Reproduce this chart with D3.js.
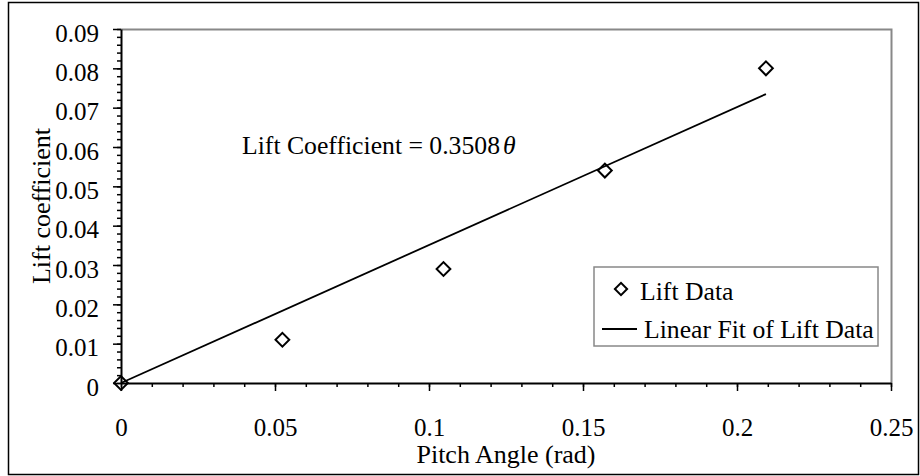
<!DOCTYPE html>
<html>
<head>
<meta charset="utf-8">
<script src="https://cdn.jsdelivr.net/npm/d3@7"></script>
<style>
  html, body { margin: 0; padding: 0; background: #fff; }
  svg { display: block; }
  text { font-family: "Liberation Serif", "Times New Roman", serif; fill: #000; }
</style>
</head>
<body>
<svg id="chart" width="920" height="476"></svg>
<script>
// Pitch angles (rad) for 3, 6, 9, 12 degrees, plus the origin
const pitchAngle = [0, 0.0524, 0.1047, 0.1571, 0.2094];
const liftCoefficient = [0, 0.011, 0.029, 0.054, 0.080];
const fitSlope = 0.3508;
const xTicks = [0, 0.05, 0.1, 0.15, 0.2, 0.25];
const yTicks = [0, 0.01, 0.02, 0.03, 0.04, 0.05, 0.06, 0.07, 0.08, 0.09];
const legendLabels = ["Lift Data", "Linear Fit of Lift Data"];

const svg = d3.select("#chart");
const plot = { left: 121, top: 29, right: 891, bottom: 383 };
const tickSize = 25;
const textSize = 25.7;
const titleSize = 26;

const x = d3.scaleLinear().domain([0, 0.25]).range([plot.left, plot.right]);
const y = d3.scaleLinear().domain([0, 0.09]).range([plot.bottom, plot.top]);

// outer frame
svg.append("rect")
  .attr("x", 8.5).attr("y", 2.5).attr("width", 910).attr("height", 472)
  .attr("fill", "none").attr("stroke", "#000").attr("stroke-width", 1.5);

// plot area frame (top and right edges)
svg.append("path")
  .attr("d", `M${plot.left},${plot.top + 0.5}H${plot.right + 0.5}V${plot.bottom}`)
  .attr("fill", "none").attr("stroke", "#888").attr("stroke-width", 2);

// minor ticks
const xMinor = d3.range(0, 26).map(i => i * 0.01);
const yMinor = d3.range(0, 46).map(i => i * 0.002);
svg.append("g").attr("transform", `translate(0,${plot.bottom})`)
  .call(d3.axisBottom(x).tickValues(xMinor).tickSize(4).tickFormat(""))
  .call(g => g.select(".domain").remove())
  .selectAll("line").attr("stroke-width", 1.5);
svg.append("g").attr("transform", `translate(${plot.left},0)`)
  .call(d3.axisLeft(y).tickValues(yMinor).tickSize(4).tickFormat(""))
  .call(g => g.select(".domain").remove())
  .selectAll("line").attr("stroke-width", 1.5);

// major axes
const fmt = d => String(+d.toFixed(2));
const xAxis = svg.append("g").attr("transform", `translate(0,${plot.bottom})`)
  .call(d3.axisBottom(x).tickValues(xTicks).tickSize(8).tickSizeOuter(0).tickPadding(27)
    .tickFormat(fmt));
const yAxis = svg.append("g").attr("transform", `translate(${plot.left},0)`)
  .call(d3.axisLeft(y).tickValues(yTicks).tickSize(8).tickSizeOuter(0).tickPadding(14)
    .tickFormat(fmt));
[xAxis, yAxis].forEach(a => {
  a.select(".domain").attr("stroke-width", 2);
  a.selectAll("line").attr("stroke-width", 1.5);
  a.selectAll("text").attr("font-size", tickSize)
    .style("font-family", "'Liberation Serif', serif");
});
yAxis.selectAll("text").attr("dy", "0.48em");

// axis titles
svg.append("text")
  .attr("x", (plot.left + plot.right) / 2).attr("y", 463)
  .attr("text-anchor", "middle").attr("font-size", titleSize)
  .text("Pitch Angle (rad)");
svg.append("text")
  .attr("transform", `translate(50,${(plot.top + plot.bottom) / 2}) rotate(-90)`)
  .attr("text-anchor", "middle").attr("font-size", titleSize)
  .text("Lift coefficient");

// linear fit through the origin
const fitX = [0, pitchAngle[pitchAngle.length - 1]];
svg.append("path")
  .datum(fitX)
  .attr("d", d3.line().x(d => x(d)).y(d => y(fitSlope * d)))
  .attr("fill", "none").attr("stroke", "#000").attr("stroke-width", 1.8);

// measured points as diamonds
const diamond = d3.symbol().type(d3.symbolSquare).size(95);
svg.append("g").selectAll("path")
  .data(pitchAngle.map((p, i) => [p, liftCoefficient[i]]))
  .join("path")
  .attr("d", diamond)
  .attr("transform", d => `translate(${x(d[0])},${y(d[1])}) rotate(45)`)
  .attr("fill", "none").attr("stroke", "#000").attr("stroke-width", 2);

// fit equation
const eq = svg.append("text").attr("x", 242).attr("y", 154).attr("font-size", textSize);
eq.append("tspan").text(`Lift Coefficient = ${fitSlope}`);
eq.append("tspan").attr("font-style", "italic").attr("dx", 3).text("θ");

// legend
const lg = svg.append("g");
lg.append("rect")
  .attr("x", 594).attr("y", 267).attr("width", 284).attr("height", 79)
  .attr("fill", "#fff").attr("stroke", "#888").attr("stroke-width", 1.5);
lg.append("path")
  .attr("d", d3.symbol().type(d3.symbolSquare).size(75))
  .attr("transform", "translate(621,289) rotate(45)")
  .attr("fill", "none").attr("stroke", "#000").attr("stroke-width", 2);
lg.append("text").attr("x", 640).attr("y", 300).attr("font-size", textSize).text(legendLabels[0]);
lg.append("line")
  .attr("x1", 602).attr("x2", 637).attr("y1", 329).attr("y2", 329)
  .attr("stroke", "#000").attr("stroke-width", 1.8);
lg.append("text").attr("x", 644).attr("y", 338).attr("font-size", textSize).text(legendLabels[1]);
</script>
</body>
</html>
